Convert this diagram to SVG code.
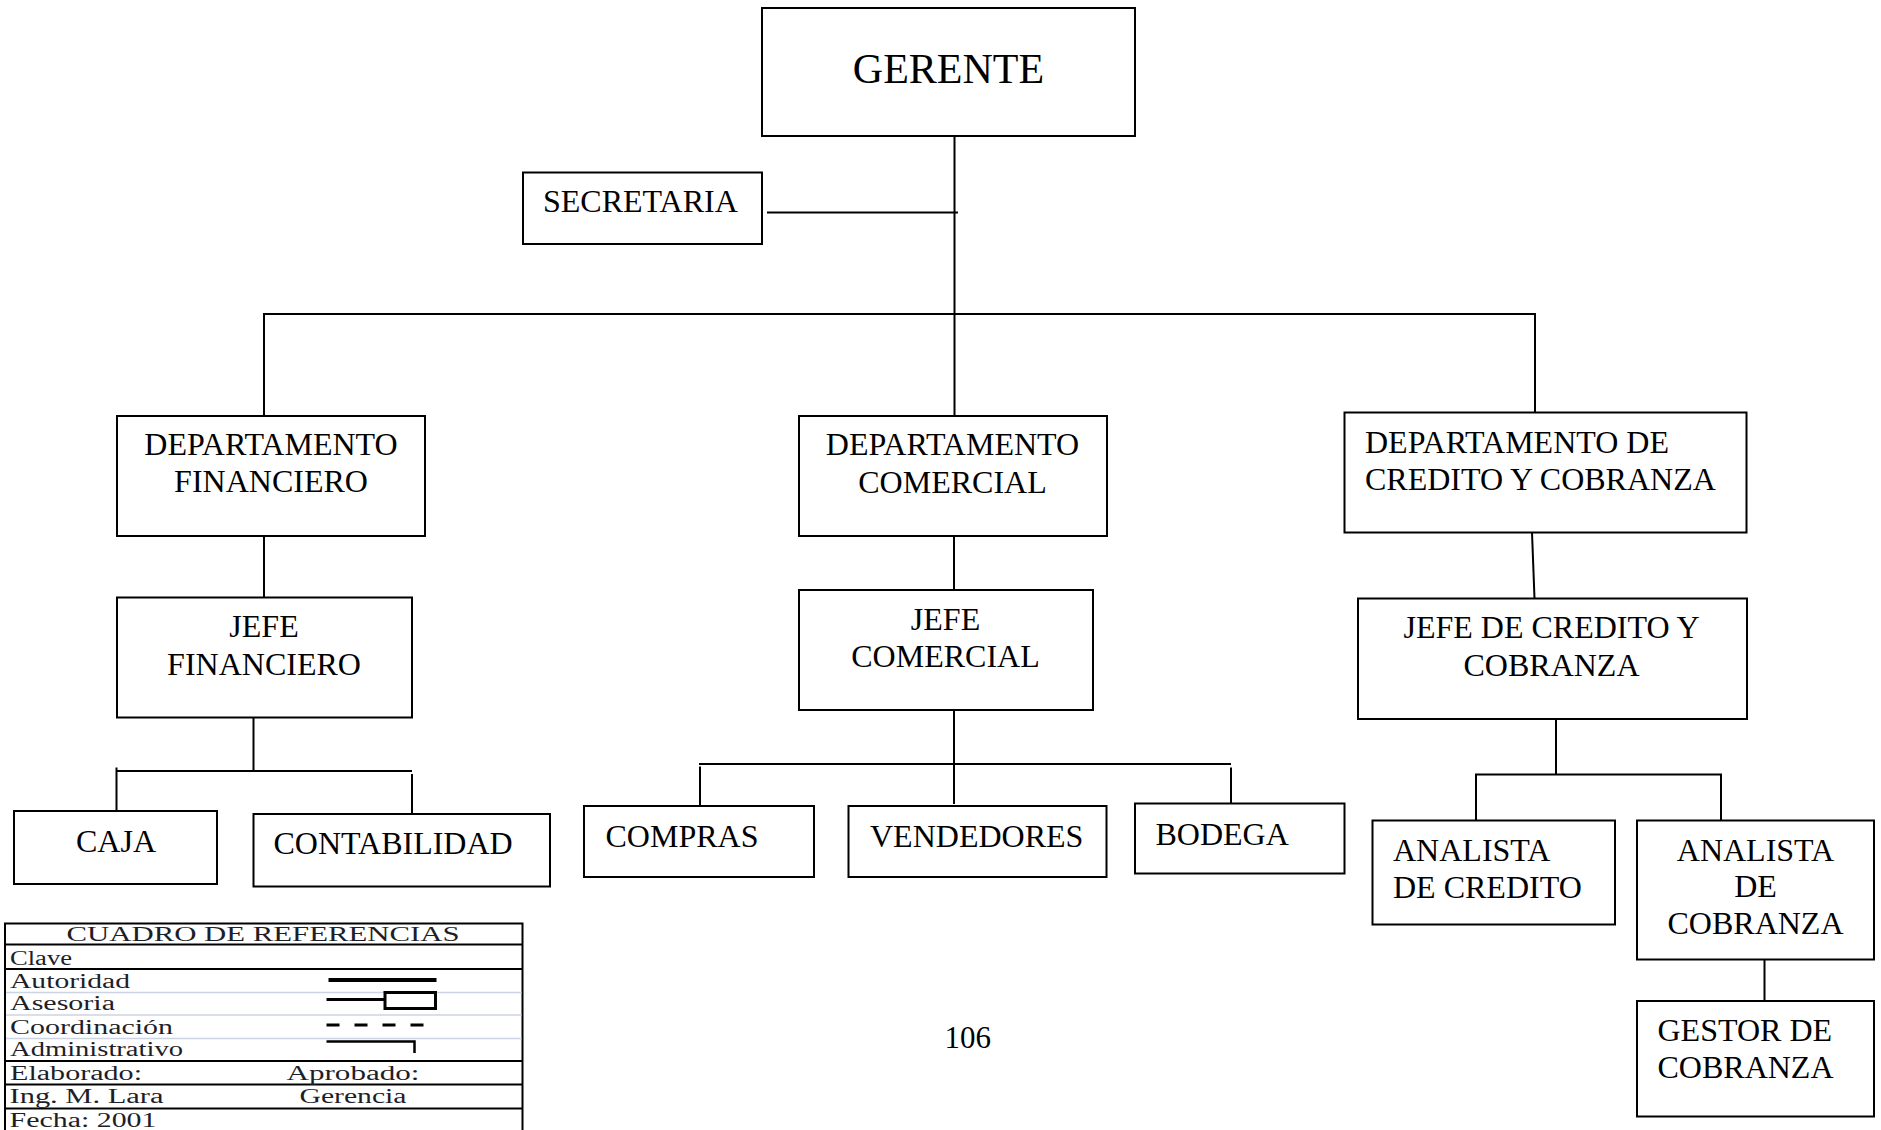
<svg xmlns="http://www.w3.org/2000/svg" width="1881" height="1130" viewBox="0 0 1881 1130">
  <style>
    .box { fill: #ffffff; stroke: #000000; stroke-width: 2; }
    .lbl { font-family: "Liberation Serif", "Times New Roman", serif; font-size: 32px; fill: #000000; }
    .mid { text-anchor: middle; }
    .wire { stroke: #000000; stroke-width: 2; fill: none; }
    .ref { font-family: "Liberation Serif", "Times New Roman", serif; font-size: 20px; fill: #1e1e28; }
    .grid { stroke: #000000; stroke-width: 2; fill: none; }
    .faint { stroke: #ccd3e3; stroke-width: 1.5; fill: none; }
    .sym { stroke: #000000; fill: none; }
  </style>
  <rect x="0" y="0" width="1881" height="1130" fill="#ffffff"/>

  <!-- reporting lines -->
  <g id="connectors">
    <line class="wire" x1="954.5" y1="136" x2="954.5" y2="416"/>
    <line class="wire" x1="767" y1="212.5" x2="958" y2="212.5"/>
    <line class="wire" x1="263" y1="314" x2="1536" y2="314" stroke-width="2.5"/>
    <line class="wire" x1="264" y1="314" x2="264" y2="416"/>
    <line class="wire" x1="1535" y1="314" x2="1535" y2="412.5"/>

    <!-- financiero branch -->
    <line class="wire" x1="264" y1="536" x2="264" y2="597.5"/>
    <line class="wire" x1="253.5" y1="717.5" x2="253.5" y2="771"/>
    <line class="wire" x1="116.5" y1="771" x2="412" y2="771"/>
    <line class="wire" x1="116.5" y1="767.5" x2="116.5" y2="811"/>
    <line class="wire" x1="412" y1="774" x2="412" y2="814"/>

    <!-- comercial branch -->
    <line class="wire" x1="954" y1="536" x2="954" y2="590"/>
    <line class="wire" x1="954" y1="710" x2="954" y2="804"/>
    <line class="wire" x1="699" y1="764" x2="1231" y2="764" stroke-width="2.5"/>
    <line class="wire" x1="700" y1="766.5" x2="700" y2="806"/>
    <line class="wire" x1="1231" y1="767.5" x2="1231" y2="803.5"/>

    <!-- credito y cobranza branch -->
    <line class="wire" x1="1532" y1="532.5" x2="1534.5" y2="598.5"/>
    <line class="wire" x1="1556" y1="719" x2="1556" y2="774.5"/>
    <line class="wire" x1="1475" y1="774.5" x2="1722" y2="774.5"/>
    <line class="wire" x1="1476" y1="774.5" x2="1476" y2="820.5"/>
    <line class="wire" x1="1721" y1="774.5" x2="1721" y2="820.5"/>
    <line class="wire" x1="1764.5" y1="959.5" x2="1764.5" y2="1001"/>
  </g>

  <g id="gerente">
    <rect class="box" x="762" y="8" width="373" height="128"/>
    <text class="lbl mid" x="948.5" y="83" style="font-size:42px">GERENTE</text>
  </g>

  <g id="secretaria">
    <rect class="box" x="523" y="172.5" width="239" height="71.5"/>
    <text class="lbl" x="543" y="212">SECRETARIA</text>
  </g>

  <g id="dep-financiero">
    <rect class="box" x="117" y="416" width="308" height="120"/>
    <text class="lbl mid" x="271" y="455">DEPARTAMENTO</text>
    <text class="lbl mid" x="271" y="492">FINANCIERO</text>
  </g>

  <g id="jefe-financiero">
    <rect class="box" x="117" y="597.5" width="295" height="120"/>
    <text class="lbl mid" x="264" y="636.5">JEFE</text>
    <text class="lbl mid" x="264" y="675">FINANCIERO</text>
  </g>

  <g id="caja">
    <rect class="box" x="14" y="811" width="203" height="73"/>
    <text class="lbl mid" x="116" y="852">CAJA</text>
  </g>

  <g id="contabilidad">
    <rect class="box" x="253.5" y="814" width="296.5" height="72.5"/>
    <text class="lbl" x="273.5" y="854">CONTABILIDAD</text>
  </g>

  <g id="dep-comercial">
    <rect class="box" x="799" y="416" width="308" height="120"/>
    <text class="lbl mid" x="952.5" y="455">DEPARTAMENTO</text>
    <text class="lbl mid" x="952.5" y="492.5">COMERCIAL</text>
  </g>

  <g id="jefe-comercial">
    <rect class="box" x="799" y="590" width="294" height="120"/>
    <text class="lbl mid" x="945.5" y="629.5">JEFE</text>
    <text class="lbl mid" x="945.5" y="666.5">COMERCIAL</text>
  </g>

  <g id="compras">
    <rect class="box" x="584" y="806" width="230" height="71"/>
    <text class="lbl" x="605.5" y="846.5">COMPRAS</text>
  </g>

  <g id="vendedores">
    <rect class="box" x="848.5" y="806" width="258" height="71"/>
    <text class="lbl" x="870" y="846.5">VENDEDORES</text>
  </g>

  <g id="bodega">
    <rect class="box" x="1135" y="803.5" width="209.5" height="70"/>
    <text class="lbl" x="1155.5" y="844.5">BODEGA</text>
  </g>

  <g id="dep-credito-cobranza">
    <rect class="box" x="1344.5" y="412.5" width="402" height="120"/>
    <text class="lbl" x="1365" y="452.5">DEPARTAMENTO DE</text>
    <text class="lbl" x="1365" y="490">CREDITO Y COBRANZA</text>
  </g>

  <g id="jefe-credito-cobranza">
    <rect class="box" x="1358" y="598.5" width="389" height="120.5"/>
    <text class="lbl mid" x="1551.5" y="637.5">JEFE DE CREDITO Y</text>
    <text class="lbl mid" x="1551.5" y="675.5">COBRANZA</text>
  </g>

  <g id="analista-credito">
    <rect class="box" x="1372.5" y="820.5" width="242.5" height="104"/>
    <text class="lbl" x="1393" y="860.5">ANALISTA</text>
    <text class="lbl" x="1393" y="897.5">DE CREDITO</text>
  </g>

  <g id="analista-cobranza">
    <rect class="box" x="1637" y="820.5" width="237" height="139"/>
    <text class="lbl mid" x="1755.5" y="860.5">ANALISTA</text>
    <text class="lbl mid" x="1755.5" y="897">DE</text>
    <text class="lbl mid" x="1755.5" y="934">COBRANZA</text>
  </g>

  <g id="gestor-cobranza">
    <rect class="box" x="1637" y="1001" width="237" height="115.5"/>
    <text class="lbl" x="1657.5" y="1041">GESTOR DE</text>
    <text class="lbl" x="1657.5" y="1078">COBRANZA</text>
  </g>

  <!-- page number -->
  <text class="lbl" x="944.5" y="1047.5" style="font-size:31px">106</text>

  <!-- reference table -->
  <g id="cuadro-referencias">
    <path class="grid" d="M5,1130 V923.5 H522.5 V1130"/>
    <line class="grid" x1="5" y1="944.5" x2="522.5" y2="944.5"/>
    <line class="grid" x1="5" y1="969" x2="522.5" y2="969"/>
    <line class="faint" x1="6" y1="992.5" x2="521.5" y2="992.5"/>
    <line class="faint" x1="6" y1="1015" x2="521.5" y2="1015"/>
    <line class="faint" x1="6" y1="1038.5" x2="521.5" y2="1038.5"/>
    <line class="grid" x1="5" y1="1061" x2="522.5" y2="1061"/>
    <line class="grid" x1="5" y1="1084.5" x2="522.5" y2="1084.5"/>
    <line class="grid" x1="5" y1="1108.5" x2="522.5" y2="1108.5"/>

    <text class="ref" x="66.5" y="941" textLength="393" lengthAdjust="spacingAndGlyphs">CUADRO DE REFERENCIAS</text>
    <text class="ref" x="10" y="965" textLength="62" lengthAdjust="spacingAndGlyphs">Clave</text>
    <text class="ref" x="10" y="987.5" textLength="120" lengthAdjust="spacingAndGlyphs">Autoridad</text>
    <text class="ref" x="10" y="1010" textLength="105" lengthAdjust="spacingAndGlyphs">Asesoria</text>
    <text class="ref" x="10" y="1033.5" textLength="163" lengthAdjust="spacingAndGlyphs">Coordinación</text>
    <text class="ref" x="10" y="1056" textLength="173" lengthAdjust="spacingAndGlyphs">Administrativo</text>
    <text class="ref" x="10" y="1080" textLength="132" lengthAdjust="spacingAndGlyphs">Elaborado:</text>
    <text class="ref" x="286.5" y="1080" textLength="133" lengthAdjust="spacingAndGlyphs">Aprobado:</text>
    <text class="ref" x="9.5" y="1103" textLength="154" lengthAdjust="spacingAndGlyphs">Ing. M. Lara</text>
    <text class="ref" x="299.5" y="1103" textLength="107" lengthAdjust="spacingAndGlyphs">Gerencia</text>
    <text class="ref" x="9.5" y="1126.5" textLength="147" lengthAdjust="spacingAndGlyphs">Fecha: 2001</text>

    <!-- line keys -->
    <line class="sym" x1="328.5" y1="980" x2="436.5" y2="980" stroke-width="4"/>
    <line class="sym" x1="326.5" y1="999.5" x2="385" y2="999.5" stroke-width="3"/>
    <rect class="sym" x="385" y="992.5" width="50.5" height="16" stroke-width="3"/>
    <line class="sym" x1="326.5" y1="1025" x2="427" y2="1025" stroke-width="3" stroke-dasharray="13 15"/>
    <path class="sym" d="M326.5,1041.5 H414.5 V1053" stroke-width="2.5"/>
  </g>
</svg>
